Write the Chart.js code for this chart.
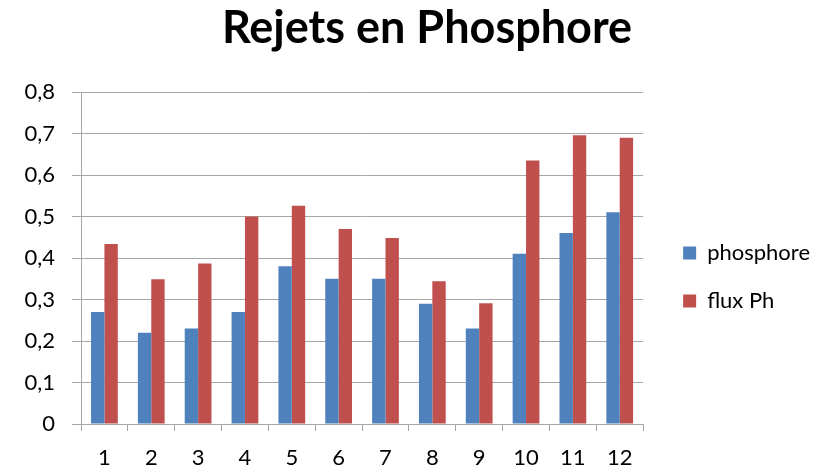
<!DOCTYPE html>
<html>
<head>
<meta charset="utf-8">
<script src="https://cdn.jsdelivr.net/npm/chart.js@4.4.0/dist/chart.umd.min.js"></script>
<style>
    html, body { margin: 0; padding: 0; background: #fff; }
    #wrap { width: 823px; height: 468px; position: relative; }
</style>
</head>
<body>
<div id="wrap"><canvas id="rejetsChart"></canvas></div>
<script>
// Data
const months = ['1', '2', '3', '4', '5', '6', '7', '8', '9', '10', '11', '12'];
const phosphore = [0.27, 0.22, 0.23, 0.27, 0.38, 0.35, 0.35, 0.29, 0.23, 0.41, 0.46, 0.51];
const fluxPh = [0.434, 0.349, 0.387, 0.5, 0.526, 0.47, 0.448, 0.344, 0.291, 0.635, 0.696, 0.69];
const yTicks = [0, 0.1, 0.2, 0.3, 0.4, 0.5, 0.6, 0.7, 0.8];

const gridColor = '#a6a6a6';
const fontFamily = 'Lato, "Open Sans", sans-serif';
const tickFont = { family: fontFamily, size: 22 };

// nudge the legend and the title a bit, like the Excel layout
const layoutNudge = {
    id: 'layoutNudge',
    afterLayout(chart) {
        const lg = chart.legend;
        if (lg) {
            lg.left += 14; lg.right += 14;
            lg.top += 43; lg.bottom += 43;
        }
        const tb = chart.titleBlock;
        if (tb) {
            tb.left += 24; tb.right += 24;
        }
    }
};

const ctx = document.getElementById('rejetsChart');
new Chart(ctx.getContext('2d'), {
    type: 'bar',
    data: {
        labels: months,
        datasets: [{
            label: 'phosphore',
            data: phosphore,
            backgroundColor: '#4F81BD',
            borderWidth: 0
        }, {
            label: 'flux Ph',
            data: fluxPh,
            backgroundColor: '#C0504D',
            borderWidth: 0
        }]
    },
    plugins: [layoutNudge],
    options: {
        responsive: true,
        maintainAspectRatio: false,
        animation: false,
        layout: { padding: { left: 0, right: 17, top: 0, bottom: 0 } },
        datasets: {
            bar: { categoryPercentage: 0.571, barPercentage: 1.0 }
        },
        plugins: {
            title: {
                display: true,
                text: 'Rejets en Phosphore',
                color: '#000',
                font: { family: fontFamily, size: 45, weight: 'bold' },
                padding: { top: 1, bottom: 37 }
            },
            legend: {
                position: 'right',
                labels: {
                    color: '#000',
                    font: tickFont,
                    boxWidth: 13,
                    boxHeight: 13,
                    padding: 26
                }
            },
            tooltip: { enabled: false }
        },
        scales: {
            x: {
                grid: {
                    drawOnChartArea: false,
                    color: gridColor,
                    tickLength: 7
                },
                border: { color: gridColor },
                ticks: { color: '#000', font: tickFont, padding: 14 },
                afterFit: function(scale) { scale.height = 44; }
            },
            y: {
                min: 0,
                max: 0.8,
                afterBuildTicks: function(scale) {
                    scale.ticks = yTicks.map(v => ({ value: v }));
                },
                grid: { color: gridColor, tickLength: 9 },
                border: { color: gridColor },
                ticks: {
                    color: '#000',
                    font: tickFont,
                    padding: 17,
                    callback: v => (v === 0 ? '0' : v.toFixed(1).replace('.', ','))
                },
                afterFit: function(scale) { scale.width = 81; }
            }
        }
    }
});
</script>
</body>
</html>
